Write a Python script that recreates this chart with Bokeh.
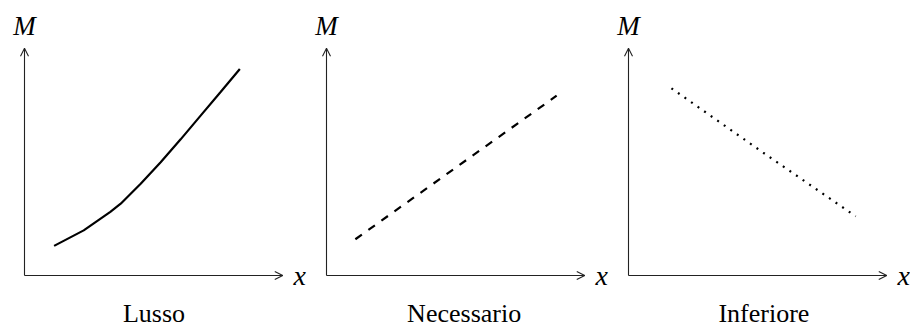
from bokeh.plotting import figure
from bokeh.models import Range1d, Arrow, OpenHead, ColumnDataSource
from bokeh.core.properties import value
from bokeh.embed import file_html
from bokeh.resources import INLINE

# Three demand curves of income M against quantity x
titles = ["Lusso", "Necessario", "Inferiore"]

lusso_x = [0.40, 0.80, 1.16, 1.30, 1.57, 1.84, 2.11, 2.38, 2.65, 2.91]
lusso_m = [0.40, 0.61, 0.86, 0.97, 1.24, 1.53, 1.84, 2.16, 2.48, 2.79]

necessario_x = [0.39, 3.11]
necessario_m = [0.49, 2.43]

inferiore_x = [0.58, 1.82, 3.07]
inferiore_m = [2.53, 1.66, 0.80]

# layout (drawing units, px per unit)
S = 74.0
AX_X = 3.49          # length of the x axis
AX_Y = 3.07          # length of the M axis
STEP = 302 / S       # horizontal distance between panels
TITLE_X = [1.75, 1.86, 1.83]

W, H = 910, 327
p = figure(width=W, height=H, output_backend="svg", toolbar_location=None,
           x_range=Range1d(-24 / S, (W - 24) / S),
           y_range=Range1d(-52 / S, 275 / S),
           x_axis_location=None, y_axis_location=None,
           min_border=0, outline_line_color=None)
p.grid.visible = False
p.background_fill_color = "white"
p.border_fill_color = "white"

FONT = "serif"
AX_COLOR = "#222222"

series = [
    (lusso_x, lusso_m, dict(line_dash="solid")),
    (necessario_x, necessario_m, dict(line_dash="8 8")),
    (inferiore_x, inferiore_m, dict(line_dash="2 6", line_cap="butt")),
]

origins = [i * STEP for i in range(len(series))]

for ox, (xs, ms, style) in zip(origins, series):
    # axes with open arrow heads
    p.add_layout(Arrow(end=OpenHead(size=8, line_width=1.1, line_color=AX_COLOR),
                       x_start=ox, y_start=0, x_end=ox + AX_X, y_end=0,
                       line_width=1.1, line_color=AX_COLOR))
    p.add_layout(Arrow(end=OpenHead(size=8, line_width=1.1, line_color=AX_COLOR),
                       x_start=ox, y_start=0, x_end=ox, y_end=AX_Y,
                       line_width=1.1, line_color=AX_COLOR))
    # curve
    p.line([ox + v for v in xs], ms, line_color="black", line_width=2.2, **style)

# axis names
m_src = ColumnDataSource(dict(x=origins, y=[3.37] * 3, t=["M"] * 3))
p.text(x="x", y="y", text="t", source=m_src, text_font=value(FONT),
       text_font_style="italic", text_font_size="27px", text_align="center",
       text_baseline="middle", text_color="black")
x_src = ColumnDataSource(dict(x=[o + 3.635 for o in origins], y=[0.0] * 3, t=["x"] * 3))
p.text(x="x", y="y", text="t", source=x_src, text_font=value(FONT),
       text_font_style="italic", text_font_size="28px", text_align="left",
       text_baseline="middle", text_color="black")

# panel titles
t_src = ColumnDataSource(dict(x=[o + tx for o, tx in zip(origins, TITLE_X)],
                              y=[-0.52] * 3, t=titles))
p.text(x="x", y="y", text="t", source=t_src, text_font=value(FONT),
       text_font_size="26px", text_align="center",
       text_baseline="middle", text_color="black")

open("out.html", "w").write(file_html(p, INLINE))
